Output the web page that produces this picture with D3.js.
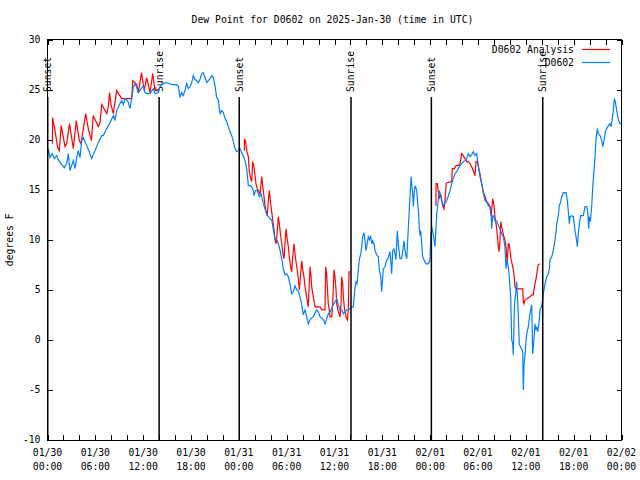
<!DOCTYPE html>
<html><head><meta charset="utf-8">
<script src="https://cdn.jsdelivr.net/npm/d3@7/dist/d3.min.js"></script>
<style>body{margin:0;background:#fff}svg{display:block}</style>
</head><body>
<svg id="chart" width="640" height="480"></svg>
<script>
// ---- data (hours since 2025-01-30 00:00 UTC, degrees F) ----
const obsPoints = [[0.00,18.5],[0.10,19.1],[0.31,18.2],[0.60,18.6],[0.85,18.1],[1.15,18.4],[1.35,18.0],[1.69,17.6],[2.11,17.2],[2.41,17.6],[2.61,18.6],[2.82,16.9],[3.24,17.9],[3.45,17.1],[3.66,18.2],[3.86,18.9],[4.08,18.2],[4.29,19.9],[4.49,20.2],[4.92,19.4],[5.33,18.6],[5.54,18.1],[5.96,18.9],[6.37,19.7],[6.80,20.4],[7.00,20.4],[7.43,21.1],[7.63,21.4],[7.84,21.7],[8.25,22.4],[8.47,22.0],[8.68,22.9],[9.09,23.6],[9.31,23.9],[9.51,23.5],[9.72,24.1],[10.10,23.8],[10.35,23.1],[10.76,25.2],[10.98,25.6],[11.19,25.2],[11.39,24.7],[12.02,25.4],[12.23,24.7],[12.44,24.6],[12.86,24.6],[13.27,25.1],[13.48,24.6],[13.90,24.7],[14.11,25.3],[14.49,25.6],[14.95,25.7],[15.58,25.5],[16.21,25.5],[16.43,25.3],[16.62,24.2],[16.83,24.7],[17.03,24.4],[17.25,24.9],[17.46,25.6],[17.66,25.1],[17.88,25.3],[18.09,25.7],[18.29,26.4],[18.50,26.0],[18.72,25.9],[18.92,25.7],[19.13,26.0],[19.34,26.6],[19.54,26.7],[19.76,26.2],[19.97,25.7],[20.17,25.9],[20.38,26.1],[20.60,26.4],[20.80,26.2],[21.01,25.4],[21.22,24.2],[21.43,24.0],[21.55,23.1],[21.64,22.6],[21.85,22.9],[22.05,22.7],[22.27,22.1],[22.48,21.8],[22.68,21.3],[22.89,20.8],[23.11,20.4],[23.31,19.8],[23.52,19.1],[23.73,18.8],[23.93,18.9],[24.15,19.1],[24.36,18.7],[24.56,18.4],[24.77,17.9],[24.99,17.1],[25.19,15.4],[25.40,15.4],[25.61,15.3],[25.81,14.9],[25.90,14.4],[26.09,14.9],[26.32,14.9],[26.57,14.3],[26.78,14.6],[27.07,13.6],[27.28,13.1],[27.50,12.6],[27.70,12.3],[27.91,12.1],[28.12,12.0],[28.32,11.0],[28.54,10.1],[28.75,10.0],[28.95,9.6],[29.16,9.0],[29.38,8.1],[29.58,7.1],[29.79,6.5],[30.00,6.6],[30.21,6.3],[30.42,5.6],[30.63,4.6],[30.84,4.8],[31.05,5.4],[31.26,5.0],[31.46,4.9],[31.67,4.3],[31.89,3.5],[32.09,2.5],[32.30,3.0],[32.51,2.3],[32.71,1.6],[32.93,2.0],[33.14,2.2],[33.34,2.3],[33.56,2.7],[33.77,3.0],[33.97,2.8],[34.18,2.3],[34.40,2.2],[34.60,2.0],[34.81,1.6],[35.02,2.1],[35.22,2.6],[35.44,2.8],[35.65,3.1],[35.85,3.5],[36.06,3.8],[36.28,4.1],[36.48,3.5],[36.69,3.0],[36.91,3.0],[37.11,2.6],[37.32,2.8],[37.53,3.0],[37.73,3.0],[37.95,3.1],[38.16,3.3],[38.36,3.3],[38.58,5.3],[38.70,5.8],[38.82,5.6],[38.99,7.0],[39.11,8.0],[39.29,8.6],[39.41,9.3],[39.54,10.3],[39.70,10.7],[39.83,9.9],[39.95,8.9],[40.11,9.6],[40.24,10.3],[40.39,10.0],[40.54,10.4],[40.67,9.6],[40.79,9.9],[40.96,9.6],[41.08,8.9],[41.29,8.5],[41.50,8.3],[41.62,7.0],[41.80,6.3],[41.92,4.8],[42.05,6.3],[42.12,7.1],[42.34,7.3],[42.55,8.0],[42.75,8.2],[42.96,8.8],[43.09,7.6],[43.17,6.6],[43.30,8.9],[43.46,9.1],[43.59,8.6],[43.71,8.0],[43.88,10.9],[44.00,9.6],[44.22,8.1],[44.41,8.1],[44.56,8.9],[44.72,9.9],[44.84,8.9],[45.06,8.1],[45.18,9.9],[45.31,11.9],[45.47,14.3],[45.60,16.3],[45.72,15.3],[45.81,14.6],[45.89,13.3],[46.01,14.9],[46.14,15.4],[46.31,14.9],[46.44,13.6],[46.56,12.6],[46.64,11.1],[46.73,10.4],[46.81,10.9],[46.94,9.6],[47.06,8.3],[47.23,8.0],[47.48,7.6],[47.77,7.6],[47.98,8.0],[48.07,10.3],[48.19,11.3],[48.40,10.5],[48.61,9.3],[48.74,11.3],[48.82,12.6],[49.02,14.0],[49.15,14.9],[49.32,14.4],[49.45,13.9],[49.65,13.4],[49.86,13.6],[50.07,13.9],[50.28,14.4],[50.49,14.9],[50.70,15.6],[50.90,16.1],[51.12,16.6],[51.33,16.8],[51.53,17.1],[51.74,17.4],[51.96,17.6],[52.16,17.8],[52.37,17.9],[52.58,18.1],[52.78,18.6],[53.00,18.3],[53.21,18.5],[53.41,18.8],[53.62,18.4],[53.84,18.6],[54.04,17.4],[54.25,16.3],[54.46,15.6],[54.67,14.6],[54.88,13.9],[55.09,13.8],[55.29,13.4],[55.51,13.3],[55.63,12.8],[55.72,11.1],[55.84,12.4],[56.01,12.3],[56.13,11.9],[56.35,11.9],[56.47,11.6],[56.64,11.3],[56.76,11.1],[56.97,10.6],[57.17,10.3],[57.38,9.3],[57.51,7.1],[57.63,8.0],[57.80,7.3],[57.92,6.3],[58.10,4.3],[58.23,0.0],[58.35,-0.4],[58.43,-1.5],[58.55,3.0],[58.64,4.0],[58.76,4.9],[58.85,5.8],[58.95,4.3],[59.05,2.6],[59.18,-0.5],[59.36,-0.7],[59.61,-1.2],[59.68,-5.0],[59.77,-2.5],[59.90,-1.4],[60.11,0.6],[60.31,1.3],[60.52,2.6],[60.74,3.5],[60.86,-1.4],[60.96,-0.5],[61.15,1.6],[61.25,1.0],[61.37,1.3],[61.49,0.8],[61.69,2.0],[61.78,3.0],[61.99,3.4],[62.09,3.9],[62.19,4.6],[62.41,5.6],[62.62,6.3],[62.82,6.6],[62.97,7.2],[63.03,8.0],[63.25,8.3],[63.45,9.0],[63.66,10.0],[63.79,10.8],[63.87,11.6],[64.08,12.4],[64.20,13.4],[64.38,13.8],[64.50,14.3],[64.70,14.7],[65.04,14.7],[65.21,13.9],[65.33,12.8],[65.46,11.6],[65.54,12.3],[65.76,12.4],[65.96,12.3],[66.17,10.9],[66.38,9.9],[66.46,9.3],[66.58,10.6],[66.71,11.6],[66.88,12.4],[67.21,12.4],[67.42,13.3],[67.63,13.3],[67.76,12.8],[67.88,11.1],[67.96,12.3],[68.09,11.8],[68.18,12.6],[68.26,13.3],[68.39,15.3],[68.55,16.9],[68.68,18.3],[68.80,20.1],[68.97,21.1],[69.09,20.6],[69.31,20.4],[69.52,19.9],[69.65,19.3],[69.81,19.9],[69.98,20.8],[70.15,21.1],[70.35,21.4],[70.56,21.6],[70.69,21.3],[70.81,21.9],[70.97,22.9],[71.10,24.1],[71.23,23.8],[71.34,23.2],[71.47,22.6],[71.64,21.9],[71.81,21.6],[72.00,21.6]];

const anaNight1 = [[0.61,19.6],[0.64,22.2],[0.94,20.9],[1.28,19.2],[1.48,18.9],[1.72,21.4],[2.20,19.3],[2.41,19.6],[2.76,21.6],[3.24,19.1],[3.61,21.9],[3.99,19.9],[4.20,19.6],[4.79,22.6],[5.14,21.0],[5.52,19.9],[5.73,22.4],[6.37,21.3],[6.59,21.7],[6.80,23.5],[7.43,22.6],[7.63,23.3],[7.78,24.7],[7.97,23.5],[8.25,22.6],[8.68,24.9],[9.31,24.1],[10.56,24.1],[10.70,25.9],[10.98,25.7],[11.19,25.5],[11.39,24.7],[11.79,26.7],[12.14,24.9],[12.44,26.2],[12.86,24.7],[13.20,26.6],[13.48,24.9],[13.86,25.0]];
const anaNight2 = [[24.69,18.9],[24.71,20.0],[24.84,19.9],[24.99,18.9],[25.19,18.3],[25.31,16.8],[25.49,16.1],[25.61,15.8],[25.74,17.8],[25.90,17.3],[26.03,16.4],[26.15,15.6],[26.32,15.1],[26.66,14.6],[26.87,16.3],[27.00,15.3],[27.16,14.3],[27.28,13.4],[27.41,12.8],[27.57,12.4],[27.70,13.9],[27.82,14.9],[28.00,13.6],[28.12,12.8],[28.25,12.0],[28.41,11.0],[28.54,10.0],[28.69,9.6],[28.83,11.0],[28.95,12.3],[29.08,11.6],[29.25,10.4],[29.38,9.6],[29.50,8.8],[29.67,8.1],[29.79,9.6],[29.92,11.1],[30.08,10.0],[30.21,9.3],[30.33,8.3],[30.51,7.3],[30.63,6.8],[30.76,8.3],[30.92,9.6],[31.05,8.6],[31.17,7.8],[31.33,7.0],[31.46,6.1],[31.59,5.0],[31.76,6.6],[31.89,7.9],[32.01,7.1],[32.17,6.3],[32.30,5.3],[32.51,4.3],[32.71,3.3],[32.84,5.6],[32.93,7.3],[33.03,6.6],[33.14,5.3],[33.34,4.3],[33.56,3.3],[34.18,3.3],[34.40,3.0],[34.81,3.0],[34.90,7.3],[35.02,6.6],[35.10,5.3],[35.22,3.6],[35.35,3.0],[35.44,2.3],[35.65,2.3],[35.77,3.6],[35.94,7.0],[36.06,6.3],[36.19,5.0],[36.28,3.6],[36.40,3.1],[36.60,2.5],[36.69,2.3],[36.82,3.6],[36.90,6.3],[37.03,5.6],[37.11,4.3],[37.23,3.3],[37.44,2.3],[37.61,2.0],[37.73,3.0],[37.82,6.8],[37.95,6.8]];
const anaNight3 = [[48.73,13.4],[48.74,15.6],[48.90,15.6],[49.02,14.8],[49.17,14.2],[49.32,14.5],[49.45,13.9],[49.57,13.4],[49.74,13.1],[49.86,13.9],[50.01,15.6],[50.11,15.7],[50.70,15.8],[50.78,17.1],[51.03,17.1],[51.24,17.4],[51.53,17.4],[51.74,17.6],[51.96,18.6],[52.16,18.4],[52.37,18.1],[52.58,17.8],[52.78,17.8],[53.00,17.6],[53.21,17.3],[53.41,16.9],[53.62,16.4],[53.75,17.8],[53.91,17.8],[54.04,17.3],[54.25,16.6],[54.46,15.6],[54.67,14.8],[54.88,14.3],[55.09,13.8],[55.29,13.6],[55.51,13.3],[55.63,12.4],[55.76,13.3],[55.84,14.1],[56.01,13.4],[56.13,12.3],[56.35,11.1],[56.47,10.0],[56.55,9.3],[56.64,8.8],[56.76,10.0],[56.85,11.8],[56.97,11.3],[57.10,10.8],[57.26,10.3],[57.38,10.0],[57.51,9.3],[57.60,8.3],[57.67,7.8],[57.80,9.6],[57.89,9.6],[58.01,9.0],[58.14,8.1],[58.30,7.5],[58.43,7.0],[58.55,6.3],[58.64,5.3],[58.76,5.1],[59.61,5.1],[59.68,3.8],[59.77,3.6],[59.90,4.0],[60.52,4.3],[60.74,4.5],[60.94,4.5],[61.07,5.3],[61.28,6.1],[61.44,7.0],[61.54,7.5],[61.78,7.6]];

const sunsetHours = [0.03, 24.05, 48.15];
const sunriseHours = [14.0, 38.07, 62.12];
const yTicks = [-10, -5, 0, 5, 10, 15, 20, 25, 30];
const xTickHours = [0, 6, 12, 18, 24, 30, 36, 42, 48, 54, 60, 66, 72];
const xTickDays = ["01/30","01/30","01/30","01/30","01/31","01/31","01/31","01/31","02/01","02/01","02/01","02/01","02/02"];
const xTickTimes = ["00:00","06:00","12:00","18:00","00:00","06:00","12:00","18:00","00:00","06:00","12:00","18:00","00:00"];
const seriesNames = ["D0602 Analysis", "D0602"];
const seriesColors = ["#ff0000", "#0080ff"];

// ---- drawing ----
const FONT = "'DejaVu Sans Mono', 'Liberation Mono', monospace";
const FS = 9.75;
const L = 47.5, R = 621.5, T = 39.5, B = 440;
const svg = d3.select("#chart");
svg.append("rect").attr("width", 640).attr("height", 480).attr("fill", "#fff");

const x = d3.scaleLinear().domain([0, 72]).range([L, R]);
const y = d3.scaleLinear().domain([-10, 30]).range([B, T]);

svg.append("defs").append("clipPath").attr("id", "clip")
  .append("rect").attr("x", L).attr("y", T).attr("width", R - L).attr("height", B - T);

const minorHours = d3.range(0, 73, 2);
function styleAxis(g) {
  g.select(".domain").remove();
  g.selectAll("line").attr("stroke", "#000").attr("shape-rendering", "crispEdges");
  g.selectAll("text").remove();
}
svg.append("g").attr("transform", `translate(0,${B})`)
  .call(d3.axisBottom(x).tickValues(minorHours).tickSize(-5).tickFormat(""))
  .call(styleAxis);
svg.append("g").attr("transform", `translate(0,${T})`)
  .call(d3.axisTop(x).tickValues(minorHours).tickSize(-5).tickFormat(""))
  .call(styleAxis);
svg.append("g").attr("transform", `translate(${L},0)`)
  .call(d3.axisLeft(y).tickValues(yTicks).tickSize(-5).tickFormat(""))
  .call(styleAxis);
svg.append("g").attr("transform", `translate(${R},0)`)
  .call(d3.axisRight(y).tickValues(yTicks).tickSize(-5).tickFormat(""))
  .call(styleAxis);

// tick labels
const txt = svg.append("g").attr("font-family", FONT).attr("font-size", FS).attr("fill", "#000");
txt.selectAll(".yl").data(yTicks).join("text")
  .attr("x", L - 7).attr("y", d => y(d)).attr("dy", "0.35em")
  .attr("text-anchor", "end").text(d => d);
xTickHours.forEach((h, i) => {
  const t = txt.append("text").attr("text-anchor", "middle");
  t.append("tspan").attr("x", x(h)).attr("y", B + 16).text(xTickDays[i]);
  t.append("tspan").attr("x", x(h)).attr("y", B + 30).text(xTickTimes[i]);
});

// title & axis label
txt.append("text").attr("x", 332.5).attr("y", 23).attr("text-anchor", "middle")
  .text("Dew Point for D0602 on 2025-Jan-30 (time in UTC)");
txt.append("text").attr("transform", `translate(13,${(T + B) / 2}) rotate(-90)`)
  .attr("text-anchor", "middle").text("degrees F");

// data lines
const line = d3.line().x(d => x(d[0])).y(d => y(d[1]));
const plot = svg.append("g").attr("clip-path", "url(#clip)");
[anaNight1, anaNight2, anaNight3].forEach(seg => {
  plot.append("path").datum(seg).attr("d", line)
    .attr("fill", "none").attr("stroke", seriesColors[0]).attr("stroke-width", 1.2);
});
plot.append("path").datum(obsPoints).attr("d", line)
  .attr("fill", "none").attr("stroke", seriesColors[1]).attr("stroke-width", 1.2);

// frame
svg.append("rect").attr("x", L).attr("y", T).attr("width", R - L).attr("height", B - T)
  .attr("fill", "none").attr("stroke", "#000").attr("stroke-width", 1).attr("shape-rendering", "crispEdges");

// sunrise / sunset markers
const sunEvents = sunsetHours.map(h => ({h, label: "Sunset"}))
  .concat(sunriseHours.map(h => ({h, label: "Sunrise"})));
const lineTop = 97;
svg.append("g").selectAll("line").data(sunEvents).join("line")
  .attr("x1", d => x(d.h)).attr("x2", d => x(d.h))
  .attr("y1", lineTop).attr("y2", B)
  .attr("stroke", "#000").attr("stroke-width", 1.5);
txt.selectAll(".sun").data(sunEvents).join("text")
  .attr("transform", d => `translate(${x(d.h)},92) rotate(-90)`)
  .attr("dy", "0.35em").attr("text-anchor", "start").text(d => d.label);

// legend
const legRows = [{name: seriesNames[0], color: seriesColors[0], yy: 49.5},
                 {name: seriesNames[1], color: seriesColors[1], yy: 62.5}];
const leg = svg.append("g");
legRows.forEach(r => {
  leg.append("text").attr("x", 574).attr("y", r.yy).attr("dy", "0.35em")
    .attr("text-anchor", "end").attr("font-family", FONT).attr("font-size", FS).text(r.name);
  leg.append("line").attr("x1", 582).attr("x2", 610).attr("y1", r.yy).attr("y2", r.yy)
    .attr("stroke", r.color).attr("stroke-width", 1.2);
});
</script>
</body></html>
